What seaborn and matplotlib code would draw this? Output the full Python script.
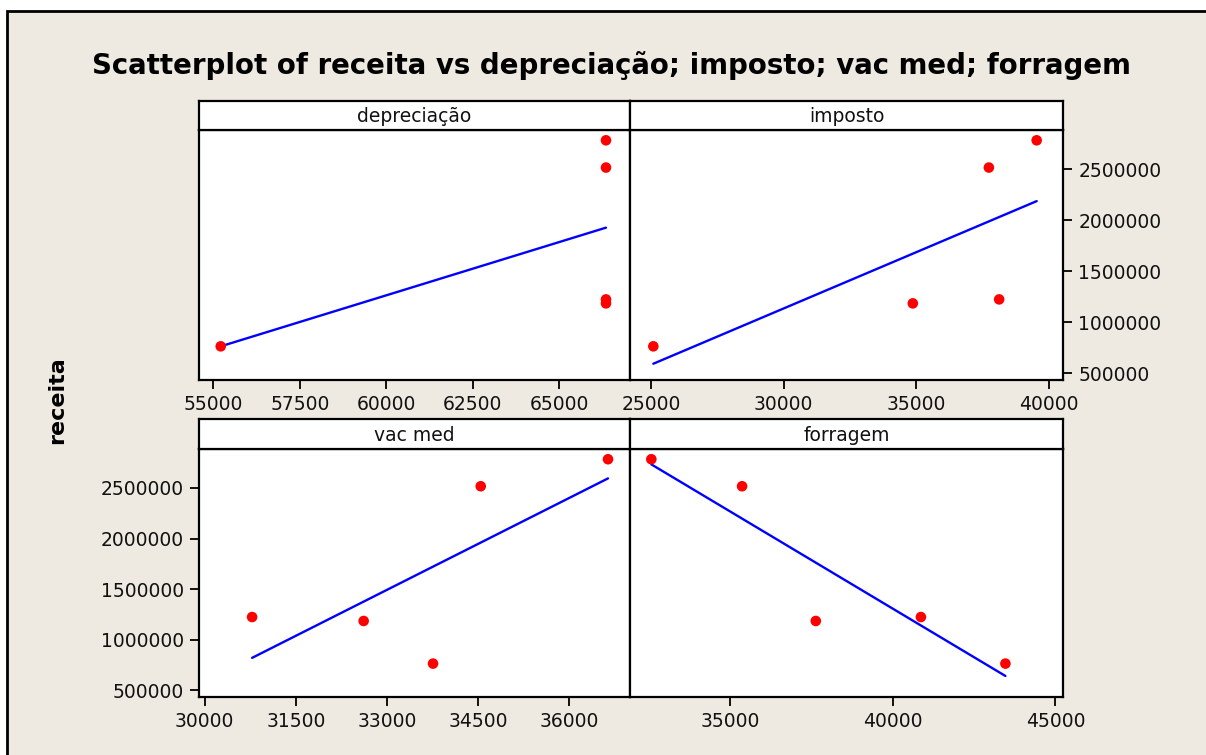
import matplotlib
matplotlib.use("Agg")
import matplotlib.pyplot as plt
from matplotlib.patches import Rectangle
import numpy as np
import pandas as pd
import seaborn as sns

# Data: one row per observation
receita = [765000, 1186000, 1225000, 2517000, 2784000]
depreciacao = [55214, 66349, 66349, 66349, 66349]
imposto = [25087, 34875, 38132, 37744, 39547]
vac_med = [33758, 32616, 30780, 34543, 36638]
forragem = [43462, 37628, 40862, 35360, 32567]

panel_names = ["depreciação", "imposto", "vac med", "forragem"]
y_ticks = [500000, 1000000, 1500000, 2000000, 2500000]
x_ticks = {
    "depreciação": [55000, 57500, 60000, 62500, 65000],
    "imposto": [25000, 30000, 35000, 40000],
    "vac med": [30000, 31500, 33000, 34500, 36000],
    "forragem": [35000, 40000, 45000],
}
x_limits = {
    "depreciação": (54586, 67043),
    "imposto": (24207, 40540),
    "vac med": (29906, 37000),
    "forragem": (31911, 45234),
}
y_limits = (435000, 2885000)

df = pd.DataFrame({
    "receita": receita,
    "depreciação": depreciacao,
    "imposto": imposto,
    "vac med": vac_med,
    "forragem": forragem,
})

sns.set_theme(style="ticks")
plt.rcParams["font.family"] = ["DejaVu Sans"]

W, H = 1206, 755
BG = "#EEEAE1"
fig = plt.figure(figsize=(W / 100, H / 100), dpi=100, facecolor="white")

# Framed panel background
fig.patches.append(Rectangle((7 / W, -0.1), 1.2, 1 - 11 / H + 0.1,
                             transform=fig.transFigure, facecolor=BG,
                             edgecolor="black", linewidth=2, zorder=-10))


def box(x0, y0, x1, y1):
    return [x0 / W, 1 - y1 / H, (x1 - x0) / W, (y1 - y0) / H]


layout = {
    "depreciação": (199, 130, 630, 380, 101),
    "imposto": (630, 130, 1063, 380, 101),
    "vac med": (199, 449, 630, 697, 419),
    "forragem": (630, 449, 1063, 697, 419),
}

for name in panel_names:
    x0, y0, x1, y1, ys = layout[name]
    ax = fig.add_axes(box(x0, y0, x1, y1))
    ax.set_zorder(1)
    ax.set_facecolor("white")
    sns.regplot(data=df, x=name, y="receita", ax=ax, ci=None, truncate=True,
                scatter_kws=dict(color="red", s=58, edgecolor="none", alpha=1, zorder=3),
                line_kws=dict(color="blue", linewidth=1.7, zorder=2))
    ax.set_xlim(*x_limits[name])
    ax.set_ylim(*y_limits)
    ax.set_xticks(x_ticks[name])
    ax.set_xticklabels([str(v) for v in x_ticks[name]])
    ax.set_yticks(y_ticks)
    ax.set_xlabel("")
    ax.set_ylabel("")
    for sp in ax.spines.values():
        sp.set_visible(True)
        sp.set_color("black")
        sp.set_linewidth(1.6)
    ax.tick_params(axis="both", direction="out", length=6.5, width=1.3,
                   color="black", labelsize=13.5, labelcolor="#111111", pad=4.5)
    ax.tick_params(axis="x", bottom=True, top=False, labelbottom=True)
    if name == "imposto":
        ax.tick_params(axis="y", left=False, right=True, labelleft=False, labelright=True)
        ax.set_yticklabels([str(v) for v in y_ticks])
    elif name == "vac med":
        ax.tick_params(axis="y", left=True, right=False, labelleft=True, labelright=False)
        ax.set_yticklabels([str(v) for v in y_ticks])
    else:
        ax.tick_params(axis="y", left=False, right=False, labelleft=False, labelright=False)

    # Strip with panel title
    sax = fig.add_axes(box(x0, ys, x1, y0))
    sax.set_zorder(1)
    sax.set_facecolor("white")
    sax.set_xticks([])
    sax.set_yticks([])
    sax.tick_params(left=False, bottom=False)
    for sp in sax.spines.values():
        sp.set_visible(True)
        sp.set_color("black")
        sp.set_linewidth(1.6)
    sax.text(0.5, 0.45, name, ha="center", va="center", fontsize=13.5,
             color="#111111", transform=sax.transAxes)

fig.text(611 / W, 1 - 66 / H,
         "Scatterplot of receita vs depreciação; imposto; vac med; forragem",
         ha="center", va="center", fontsize=19.9, fontweight="bold", color="black")
fig.text(57 / W, 1 - 400 / H, "receita", rotation=90, ha="center", va="center",
         fontsize=16, fontweight="bold", color="black")

fig.savefig("out.png", dpi=100, facecolor=fig.get_facecolor())
